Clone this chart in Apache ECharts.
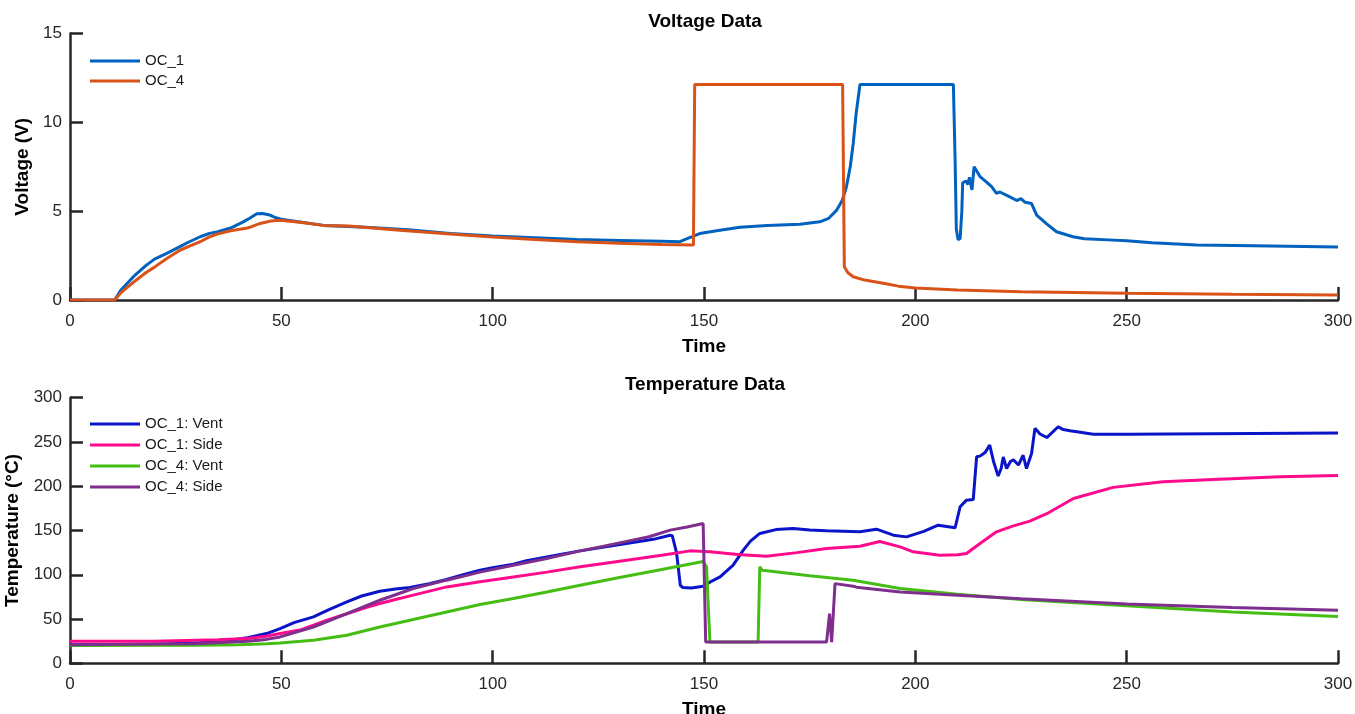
<!DOCTYPE html>
<html>
<head>
<meta charset="utf-8">
<script src="https://cdn.jsdelivr.net/npm/echarts@6/dist/echarts.min.js"></script>
<style>html,body{margin:0;padding:0;background:#fff}#c{width:1355px;height:714px}</style>
</head>
<body>
<div id="c"></div>
<script>
// ---- Data (time, value) ----
const xTicks = [0, 50, 100, 150, 200, 250, 300];

const voltOC1 = [[0,0],[10.6,0],[12,0.55],[15,1.31],[18,1.95],[20,2.3],[22.9,2.62],[26,3.0],[28,3.25],[30.8,3.56],[33,3.75],[35,3.85],[38,4.05],[41,4.4],[42.5,4.6],[44.2,4.85],[45.5,4.87],[47,4.8],[48.5,4.65],[50,4.55],[54,4.4],[60,4.2],[70,4.1],[80,3.95],[90,3.75],[100,3.6],[110,3.5],[120,3.4],[130,3.35],[140,3.3],[144.3,3.28],[146,3.45],[149,3.74],[153,3.9],[158.5,4.1],[165,4.2],[172.7,4.27],[177.4,4.4],[179.5,4.6],[181.4,5.06],[182.7,5.6],[183.7,6.37],[184.6,7.5],[185.3,8.8],[186,10.5],[186.9,12.13],[200,12.13],[209,12.13],[209.4,8],[209.7,4.0],[210.1,3.4],[210.6,3.45],[211,5.0],[211.2,6.6],[212,6.7],[212.4,6.5],[212.8,6.9],[213.4,6.2],[213.9,7.5],[214.3,7.4],[215.3,6.95],[217,6.6],[218,6.4],[219.2,6.0],[220,6.08],[222,5.85],[224,5.6],[225,5.7],[226,5.5],[227.5,5.43],[228.7,4.78],[231,4.3],[233.4,3.84],[237.3,3.56],[240,3.45],[246.8,3.37],[250,3.33],[256,3.22],[266.5,3.09],[280,3.05],[300,2.98]];

const voltOC4 = [[0,0],[10.6,0],[12,0.4],[15,1.0],[18,1.55],[20,1.85],[22.9,2.34],[26,2.8],[28,3.0],[30.8,3.28],[33,3.55],[35,3.72],[38,3.9],[42,4.05],[45,4.31],[47.5,4.45],[49.7,4.49],[54.4,4.38],[60,4.2],[66,4.16],[78,3.93],[90,3.72],[100,3.55],[110,3.4],[120,3.28],[130,3.2],[140,3.12],[147.5,3.09],[147.8,12.13],[182.8,12.13],[183.2,1.87],[184,1.55],[185.3,1.31],[188,1.12],[192.4,0.94],[196,0.78],[200,0.68],[210,0.56],[225,0.47],[250,0.38],[275,0.32],[300,0.28]];

const tempOC1Vent = [[0,21],[20,21.5],[30,23],[38,26],[42,29],[46.5,33.6],[49.7,39.2],[53,46],[57.6,52.4],[61,60],[65.5,69.3],[69,76],[73.3,81.4],[77,84],[80.4,85.6],[85,90],[89.1,94.6],[93,100],[97,105.2],[100,108],[104.9,112],[108,116],[112.8,120.2],[116,123],[120.7,127],[126,131],[132,135.5],[138,140],[142,144.7],[142.5,144],[143.5,125],[144.4,88],[145,85.6],[147,85],[149.8,87],[151.5,92],[153.8,97.6],[156.9,110.8],[159.3,127.8],[161,138],[163.2,146.7],[167,151],[171.1,152.3],[175,150.5],[179,149.6],[186.9,148.5],[190.8,151.5],[194.8,144.7],[197.9,142.8],[202,149],[205.4,156],[209.4,153],[210.6,176.8],[212.1,184.3],[213.7,185],[214.5,233.3],[215.3,234],[216.5,238],[217.6,246.5],[218.5,228],[219.6,211.5],[220.3,220],[220.8,233],[221.6,220],[222.5,228],[223.2,230],[224.4,223.9],[225.5,235],[226.3,220],[227.5,237],[228.3,265.4],[229.5,259],[231.1,255],[233.8,267.2],[235,264],[236.6,262.7],[239,261],[242.1,258.6],[250,258.8],[270,259.3],[300,260]];

const tempOC1Side = [[0,25],[20,25],[35,26.5],[42,28],[46.5,30.5],[49.7,33.6],[54.4,37.5],[57.6,43],[61,49],[65.5,56],[70,63],[73.3,67.5],[77,72],[81.2,77],[89.1,86.3],[97,92],[104.9,97.6],[112.8,103],[120.7,109],[125,112],[131.7,116.5],[140,122],[146.7,127],[151.4,126],[158,123],[164.8,121],[172,125],[179,129.7],[186.9,132.3],[191.6,137.5],[196.4,131.5],[199.5,125.9],[205.8,122],[210,122.5],[212.1,124],[215.3,135.3],[219.2,148.5],[223,155],[227.1,160.6],[231.1,169],[237.4,186.2],[246.8,198.7],[258.6,205],[270.5,207.7],[286.3,210.7],[300,212]];

const tempOC4Vent = [[0,20],[30,20.5],[40,21],[46.5,22],[49.7,23],[57.6,26],[65.5,31.7],[73.3,41],[81.2,49.4],[89.1,58],[97,66.4],[104.9,73.2],[112.8,80.6],[120.7,88.2],[130,97],[140,106],[149.8,115],[150.6,109],[151.4,24],[162.8,24],[163.2,109],[163.8,105],[175,99],[185.3,93.9],[196.4,84.5],[210,78],[225,72],[250,65],[275,58],[300,53]];

const tempOC4Side = [[0,21],[30,22],[42,25],[46.5,27],[49.7,29.8],[57.6,41],[65.5,56.2],[73.3,71.2],[81.2,84.5],[89.1,93.9],[97,103],[104.9,110.8],[112.8,118.4],[120.7,127],[126,132],[132,138],[137,143],[142,150.4],[146,154],[149.8,158],[150.4,24],[179,24],[179.7,56],[180.2,24],[181,90],[185.3,87],[186.1,86],[196.4,80.6],[210,77],[225,73],[250,67],[275,63],[300,60]];

// ---- Chart ----
const FONT = '"Liberation Sans", Arial, sans-serif';
const axisCol = '#262626';

function xAxis(gridIndex) {
  return {
    type: 'value', gridIndex, min: 0, max: 300, interval: 50,
    name: 'Time', nameLocation: 'middle', nameGap: 37,
    nameTextStyle: { fontFamily: FONT, fontSize: 19, fontWeight: 'bold', color: '#000' },
    axisLine: { show: true, onZero: false, lineStyle: { color: axisCol, width: 2.5 } },
    axisTick: { show: true, inside: true, length: 13, lineStyle: { color: axisCol, width: 2.5 } },
    axisLabel: { margin: 13, fontFamily: FONT, fontSize: 17, color: axisCol },
    splitLine: { show: false }
  };
}
function yAxis(gridIndex, max, interval, name, gap) {
  return {
    type: 'value', gridIndex, min: 0, max, interval,
    name, nameLocation: 'middle', nameGap: gap,
    nameTextStyle: { fontFamily: FONT, fontSize: 19, fontWeight: 'bold', color: '#000' },
    axisLine: { show: true, onZero: false, lineStyle: { color: axisCol, width: 2.5 } },
    axisTick: { show: true, inside: true, length: 13, lineStyle: { color: axisCol, width: 2.5 } },
    axisLabel: { margin: 8, fontFamily: FONT, fontSize: 17, color: axisCol },
    splitLine: { show: false }
  };
}
function line(name, data, color, xi) {
  return {
    name, type: 'line', data, xAxisIndex: xi, yAxisIndex: xi,
    showSymbol: false, symbol: 'none', smooth: false,
    lineStyle: { color, width: 3 }, itemStyle: { color },
    emphasis: { disabled: true }
  };
}

const chart = echarts.init(document.getElementById('c'), null, { renderer: 'canvas' });
chart.setOption({
  animation: false,
  backgroundColor: '#fff',
  graphic: [
    { type: 'text', x: 705, y: 22, style: { text: 'Voltage Data', font: 'bold 19px ' + FONT, fill: '#000', textAlign: 'center', textVerticalAlign: 'middle' } },
    { type: 'text', x: 705, y: 385, style: { text: 'Temperature Data', font: 'bold 19px ' + FONT, fill: '#000', textAlign: 'center', textVerticalAlign: 'middle' } }
  ],
  grid: [
    { left: 70, right: 17, top: 33.5, height: 266.5, outerBoundsMode: 'none', containLabel: false },
    { left: 70, right: 17, top: 397.7, height: 265.6, outerBoundsMode: 'none', containLabel: false }
  ],
  xAxis: [xAxis(0), xAxis(1)],
  yAxis: [yAxis(0, 15, 5, 'Voltage (V)', 25), yAxis(1, 300, 50, 'Temperature (°C)', 38)],
  legend: [
    { data: ['OC_1', 'OC_4'], orient: 'vertical', left: 85, top: 46, icon: 'rect', itemWidth: 50, itemHeight: 3, itemGap: 0,
      textStyle: { fontFamily: FONT, fontSize: 15, color: '#1a1a1a', lineHeight: 20 } },
    { data: ['OC_1: Vent', 'OC_1: Side', 'OC_4: Vent', 'OC_4: Side'], orient: 'vertical', left: 85, top: 408.5, icon: 'rect', itemWidth: 50, itemHeight: 3, itemGap: 0,
      textStyle: { fontFamily: FONT, fontSize: 15, color: '#1a1a1a', lineHeight: 21 } }
  ],
  series: [
    line('OC_1', voltOC1, '#0062BE', 0),
    line('OC_4', voltOC4, '#D95319', 0),
    line('OC_1: Vent', tempOC1Vent, '#0A14C8', 1),
    line('OC_1: Side', tempOC1Side, '#FF0A8C', 1),
    line('OC_4: Vent', tempOC4Vent, '#45BE14', 1),
    line('OC_4: Side', tempOC4Side, '#7E2F8E', 1)
  ]
});
</script>
</body>
</html>
